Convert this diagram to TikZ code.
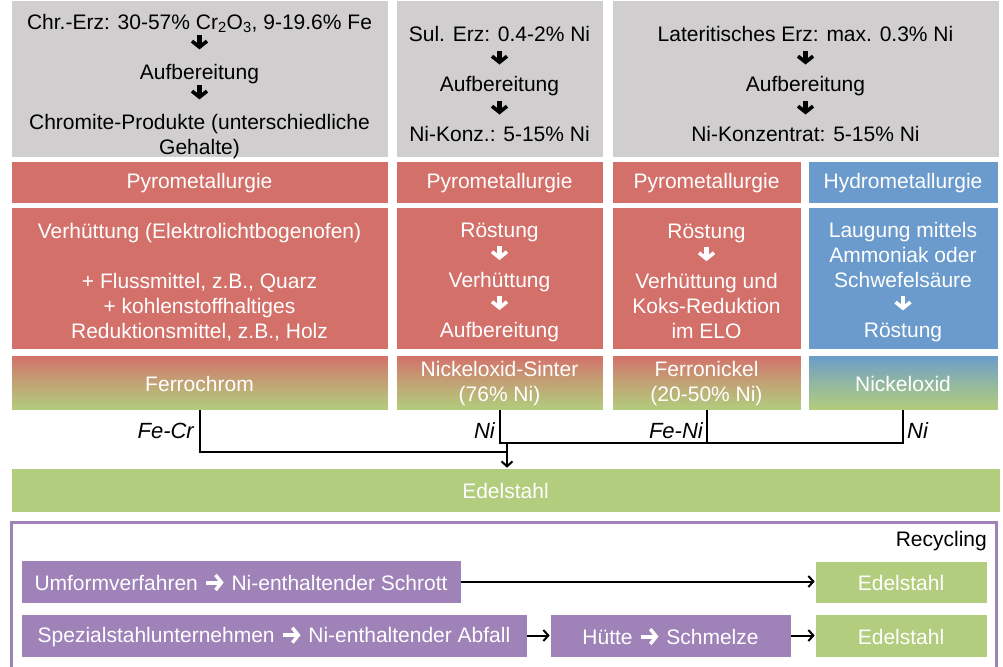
\documentclass[tikz,border=0pt]{standalone}
\usepackage{fontspec}
\setmainfont{Liberation Sans}
\usetikzlibrary{arrows.meta}
\definecolor{cgray}{HTML}{D0CECE}
\definecolor{cred}{HTML}{D4706A}
\definecolor{cblue}{HTML}{6A9BCC}
\definecolor{cgreen}{HTML}{B2CD7D}
\definecolor{cpurple}{HTML}{9F82B8}
\newcommand\darr{\tikz[baseline=0pt]\draw[line width=4.2pt,-{Straight Barb[length=6pt,width=15pt,line width=3.6pt]}] (0pt,16pt) -- (0pt,2pt);}
\newcommand\rarr{\tikz[baseline=0pt]\draw[line width=4pt,-{Straight Barb[length=6pt,width=15pt,line width=3.4pt]}] (0pt,7.5pt) -- (18pt,7.5pt);}
\begin{document}
\begin{tikzpicture}[x=1pt,y=-1pt,
  every node/.style={font=\fontsize{21}{25}\selectfont},
  box/.style={inner sep=0pt, draw=white, line width=0.6pt},
  txt/.style={align=center, inner sep=0pt},
  lbl/.style={inner sep=0pt, font=\fontsize{22}{25}\selectfont\itshape},
  redbox/.style={fill=cred, text=white},
  bluebox/.style={fill=cblue, text=white},
  greenbox/.style={fill=cgreen, text=white},
  purplebox/.style={fill=cpurple, text=white},
  graybox/.style={fill=cgray},
  prodred/.style={top color=cred, bottom color=cgreen, middle color=cred!45!cgreen, text=white},
  prodblue/.style={top color=cblue, bottom color=cgreen, middle color=cblue!45!cgreen, text=white},
  conn/.style={line width=2pt},
  tip/.style={-{Straight Barb[length=5pt,width=11pt,line width=2pt]}}
]
\useasboundingbox (0,0) rectangle (1003,666);

% top ore boxes
\node[box,graybox,minimum width=377,minimum height=157] (g1) at (199.5,78.5) {};
\node[box,graybox,minimum width=207,minimum height=157] (g2) at (499.5,78.5) {};
\node[box,graybox,minimum width=387,minimum height=157] (g3) at (805.5,78.5) {};
\node[txt] (g1t) at (199.5,86.5) {Chr.-Erz: 30-57\% Cr\textsubscript{2}O\textsubscript{3}, 9-19.6\% Fe\\[-3pt]\darr\\[3pt]Aufbereitung\\[-3pt]\darr\\[3pt]Chromite-Produkte (unterschiedliche\\Gehalte)};
\node[txt] (g2t) at (499.5,84) {Sul. Erz: 0.4-2\% Ni\\\darr\\Aufbereitung\\\darr\\Ni-Konz.: 5-15\% Ni};
\node[txt] (g3t) at (805.5,84) {Lateritisches Erz: max. 0.3\% Ni\\\darr\\Aufbereitung\\\darr\\Ni-Konzentrat: 5-15\% Ni};

% method row
\node[box,redbox,minimum width=377,minimum height=42] (p1) at (199.5,182) {};
\node[txt,text=white] (p1t) at (199.5,183.5) {Pyrometallurgie};
\node[box,redbox,minimum width=207,minimum height=42] (p2) at (499.5,182) {};
\node[txt,text=white] (p2t) at (499.5,183.5) {Pyrometallurgie};
\node[box,redbox,minimum width=189,minimum height=42] (p3) at (706.5,182) {};
\node[txt,text=white] (p3t) at (706.5,183.5) {Pyrometallurgie};
\node[box,bluebox,minimum width=190,minimum height=42] (h4) at (903,182) {};
\node[txt,text=white] (h4t) at (903,183.5) {Hydrometallurgie};

% process row
\node[box,redbox,minimum width=377,minimum height=142] (b1) at (199.5,278) {};
\node[txt,text=white] (b1t) at (199.5,282) {Verhüttung (Elektrolichtbogenofen)\\[25pt]+ Flussmittel, z.B., Quarz\\+ kohlenstoffhaltiges\\Reduktionsmittel, z.B., Holz};
\node[box,redbox,minimum width=207,minimum height=142] (b2) at (499.5,278) {};
\node[txt,text=white] (b2t) at (499.5,282) {Röstung\\\darr\\Verhüttung\\\darr\\Aufbereitung};
\node[box,redbox,minimum width=189,minimum height=142] (b3) at (706.5,278) {};
\node[txt,text=white] (b3t) at (706.5,281) {Röstung\\\darr\\Verhüttung und\\Koks-Reduktion\\im ELO};
\node[box,bluebox,minimum width=190,minimum height=142] (b4) at (903,278) {};
\node[txt,text=white] (b4t) at (903,282) {Laugung mittels\\Ammoniak oder\\Schwefelsäure\\\darr\\Röstung};

% products
\node[box,prodred,minimum width=377,minimum height=55] (fecr) at (199.5,382.5) {};
\node[txt,text=white] (fecrt) at (199.5,383.5) {Ferrochrom};
\node[box,prodred,minimum width=207,minimum height=55] (nios) at (499.5,382.5) {};
\node[txt,text=white] (niost) at (499.5,384) {Nickeloxid-Sinter\\(76\% Ni)};
\node[box,prodred,minimum width=189,minimum height=55] (feni) at (706.5,382.5) {};
\node[txt,text=white] (fenit) at (706.5,384) {Ferronickel\\(20-50\% Ni)};
\node[box,prodblue,minimum width=190,minimum height=55] (nio) at (903,382.5) {};
\node[txt,text=white] (niot) at (903,383.5) {Nickeloxid};

% stainless steel
\node[box,greenbox,minimum width=989,minimum height=44] (edel) at (505.5,490) {};
\node[txt,text=white] (edelt) at (505.5,490.5) {Edelstahl};

% connectors
\coordinate (j1) at (507,452);
\coordinate (j2) at (507,443);
\draw[conn] (fecr.south) |- (j1);
\draw[conn] (nios.south) |- (j2) -| (nio.south);
\draw[conn] (feni.south) -- (feni.south |- j2);
\draw[conn,tip] (j2) -- (j2 |- edel.north);
\node[lbl,anchor=east] (lfecr) at (194,431) {Fe-Cr};
\node[lbl,anchor=east] (lni1) at (495,431) {Ni};
\node[lbl,anchor=east] (lfeni) at (703,431) {Fe-Ni};
\node[lbl,anchor=west] (lni2) at (907,431) {Ni};

% recycling
\node[draw=cpurple,line width=3pt,minimum width=985,minimum height=146,inner sep=0pt] (recframe) at (504,595.5) {};
\node[txt,anchor=east] (reclabel) at (987,541) {Recycling};
\node[box,purplebox,minimum width=440,minimum height=43] (umf) at (241,581.5) {};
\node[txt,text=white] (umft) at (241,582.5) {Umformverfahren \rarr{} Ni-enthaltender Schrott};
\node[box,greenbox,minimum width=172,minimum height=42] (ed1) at (901,582) {};
\node[txt,text=white] (ed1t) at (901,583) {Edelstahl};
\node[box,purplebox,minimum width=506,minimum height=43] (spez) at (274,635.5) {};
\node[txt,text=white] (spezt) at (274,636.5) {Spezialstahlunternehmen \rarr{} Ni-enthaltender Abfall};
\node[box,purplebox,minimum width=241,minimum height=43] (huette) at (670.5,635.5) {};
\node[txt,text=white] (huettet) at (670.5,636.5) {Hütte \rarr{} Schmelze};
\node[box,greenbox,minimum width=172,minimum height=43] (ed2) at (901,635.5) {};
\node[txt,text=white] (ed2t) at (901,636.5) {Edelstahl};
\draw[conn,tip] (umf.east) -- (ed1.west |- umf.east);
\draw[conn,tip] (spez.east) -- (huette.west);
\draw[conn,tip] (huette.east) -- (ed2.west);
\end{tikzpicture}
\end{document}
